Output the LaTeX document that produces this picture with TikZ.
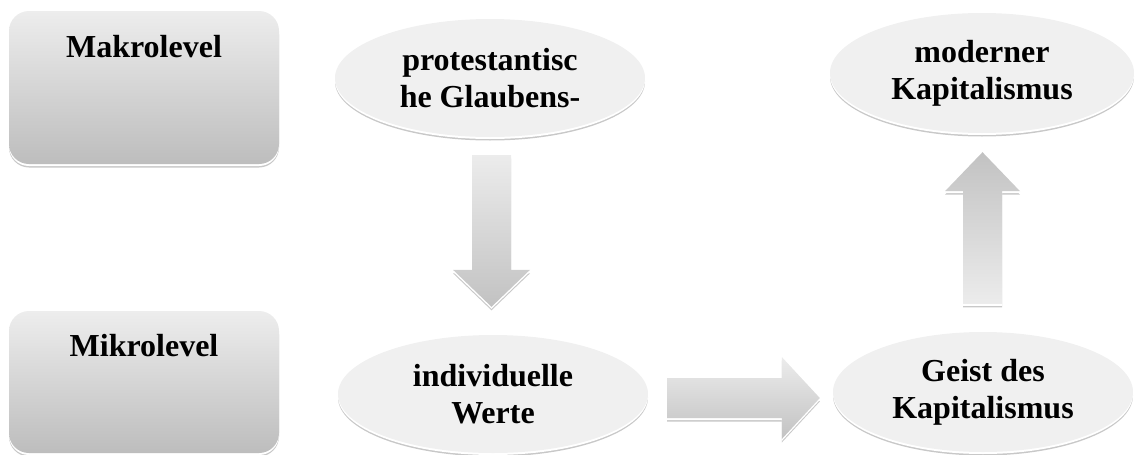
\documentclass[tikz,border=0pt]{standalone}
\usepackage{fontspec}
\setmainfont{Liberation Serif}
\usetikzlibrary{shapes.geometric,shadows,calc}
\definecolor{boxtop}{HTML}{EDEDED}
\definecolor{boxbot}{HTML}{BDBDBD}
\definecolor{ellfill}{HTML}{F0F0F0}
\definecolor{arrlight}{HTML}{ECECEC}
\definecolor{arrdark}{HTML}{C2C2C2}
\definecolor{shline}{HTML}{C8C8C8}
\tikzset{
  refl/.style={general shadow={shadow yshift=-3.5pt, fill=shline},
               general shadow={shadow yshift=-2pt, fill=white}},
  lvlbox/.style={refl, rectangle, rounded corners=20pt, minimum width=270pt,
                 minimum height=153pt, top color=boxtop, bottom color=boxbot, draw=none},
  lvltext/.style={font=\bfseries\fontsize{32}{37}\selectfont, anchor=base, inner sep=0pt},
  ellnode/.style={refl, ellipse, fill=ellfill, draw=none, inner sep=0pt,
                  align=center, font=\bfseries\fontsize{32}{37}\selectfont},
  blockarrow/.style={refl, draw=none}
}
\begin{document}
\begin{tikzpicture}[x=1pt,y=-1pt]
\useasboundingbox (0,0) rectangle (1135,455);
% level boxes
\node[lvlbox] (makro) at (144,87.5) {};
\node[lvltext] (makrot) at ($(makro.north)+(0,47)$) {Makrolevel};
\node[lvlbox, minimum height=142pt] (mikro) at (144,382) {};
\node[lvltext] (mikrot) at ($(mikro.north)+(0,46)$) {Mikrolevel};
% ellipses
\node[ellnode, minimum width=310pt, minimum height=118pt] (prot) at (490,78)
  {protestantisc\\he Glaubens-};
\node[ellnode, minimum width=304pt, minimum height=120pt] (mod) at (982,73)
  {moderner\\Kapitalismus};
\node[ellnode, minimum width=310pt, minimum height=118pt] (ind) at (493,394)
  {individuelle\\Werte};
\node[ellnode, minimum width=300pt, minimum height=120pt] (geist) at (983,392)
  {Geist des\\Kapitalismus};
% block arrows
\coordinate (dT) at ($(prot.south)+(1.5,18)$);
\coordinate (dH) at ($(ind.north)+(-1.5,-28)$);
\shade[blockarrow, top color=arrlight, bottom color=arrdark]
  ($(dT)+(-19.5,0)$) -- ($(dT)+(19.5,0)$) -- ($(dH)+(19.5,-37)$) -- ($(dH)+(38.5,-37)$)
  -- (dH) -- ($(dH)+(-38.5,-37)$) -- ($(dH)+(-19.5,-37)$) -- cycle;
\coordinate (rT) at ($(ind.east)+(19,4)$);
\coordinate (rH) at ($(geist.west)+(-13,6)$);
\shade[blockarrow, top color=arrlight, bottom color=arrdark]
  ($(rT)+(0,-20)$) -- ($(rH)+(-38,-20)$) -- ($(rH)+(-38,-41)$) -- (rH)
  -- ($(rH)+(-38,41)$) -- ($(rH)+(-38,20)$) -- ($(rT)+(0,20)$) -- cycle;
\coordinate (uT) at ($(geist.north)+(-0.5,-28)$);
\coordinate (uH) at ($(mod.south)+(0.5,19)$);
\shade[blockarrow, top color=arrdark, bottom color=arrlight]
  ($(uT)+(-19.5,0)$) -- ($(uH)+(-19.5,39)$) -- ($(uH)+(-37.5,39)$) -- (uH)
  -- ($(uH)+(37.5,39)$) -- ($(uH)+(19.5,39)$) -- ($(uT)+(19.5,0)$) -- cycle;
\end{tikzpicture}
\end{document}
